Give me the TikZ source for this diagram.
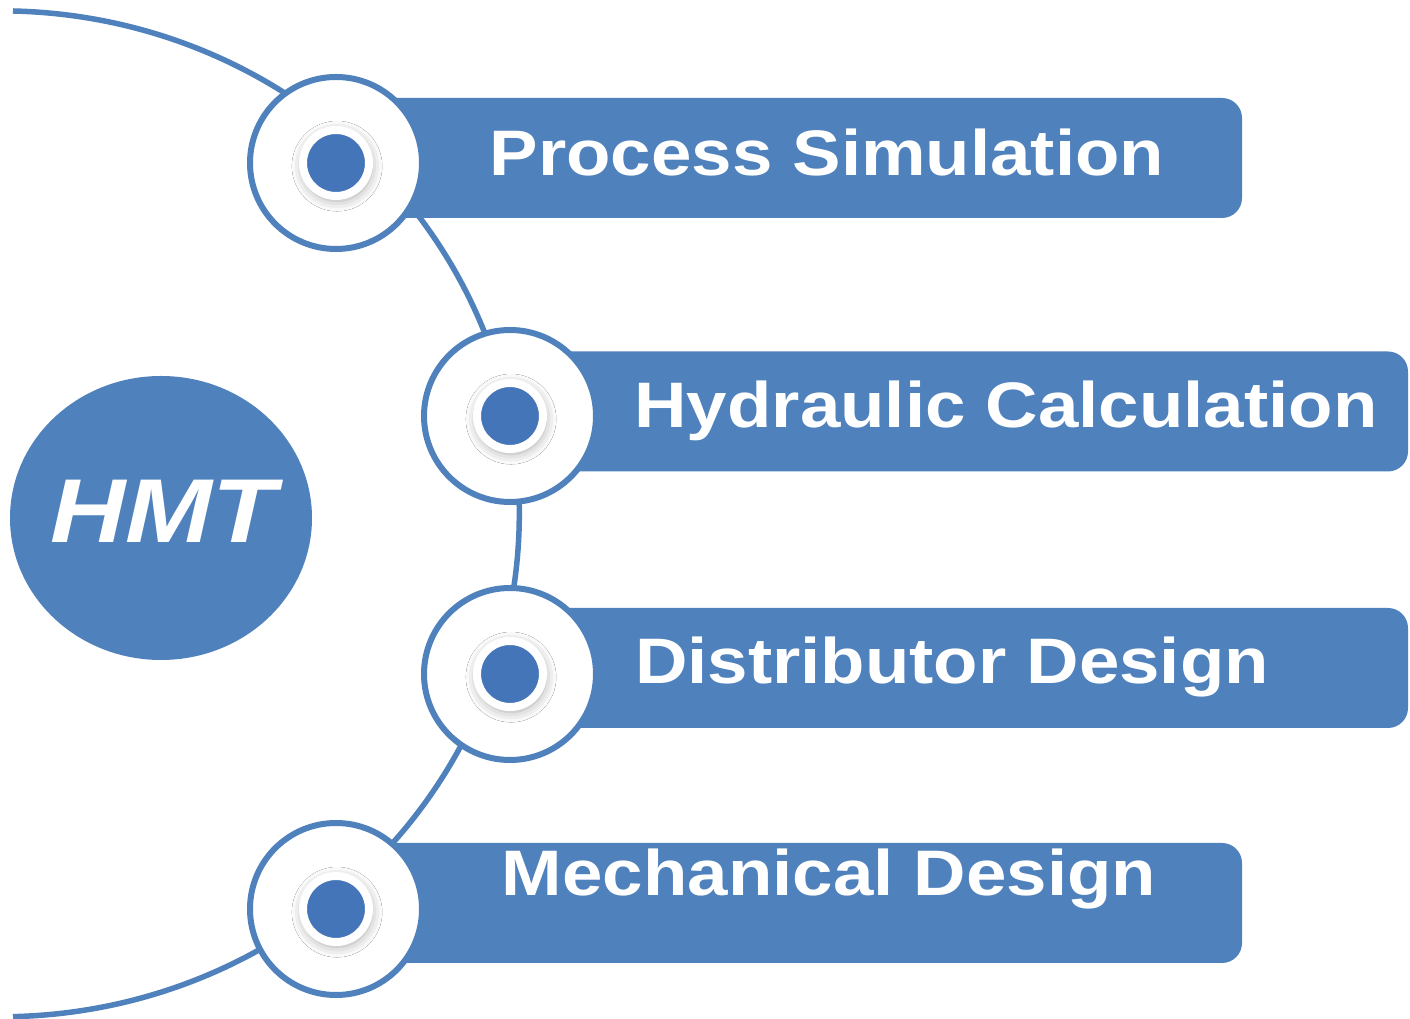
\documentclass[tikz,border=0pt]{standalone}
\usepackage{fontspec}
\setmainfont{Liberation Sans}
\newfontfamily\itemfont{Liberation Sans}[FakeStretch=1.13]
\newfontfamily\hmtfont{Liberation Sans}[FakeStretch=1.15]
\usetikzlibrary{shapes.geometric}
\usetikzlibrary{shadows.blur}
\definecolor{hmtblue}{RGB}{79,129,189}
\definecolor{dotblue}{RGB}{68,117,185}

\begin{document}
\begin{tikzpicture}[x=0.1mm,y=-0.1mm,
  bar/.style={fill=hmtblue, rounded corners=2mm, minimum height=12mm, inner sep=0pt},
  ring/.style={circle, draw=hmtblue, line width=0.6mm, fill=white, minimum size=17.2mm, inner sep=0pt},
  dot/.style={circle, fill=dotblue, draw=white, line width=0.8mm, minimum size=6.6mm, inner sep=0pt,
    blur shadow={shadow xshift=0.1mm, shadow yshift=-0.3mm, shadow blur radius=1mm, shadow scale=1.05, shadow opacity=35}},
  itemtext/.style={text=white, anchor=base, inner sep=0pt, font=\itemfont\bfseries\fontsize{18.3}{22}\selectfont}]
\fill[white] (0,0) rectangle (1410,1019);
\useasboundingbox (0,0) rectangle (1410,1019);

% backbone arc
\coordinate (arctop) at (13,11);
\draw[hmtblue, line width=0.55mm] (arctop) arc[start angle=-88.6, end angle=88.6, x radius=519, y radius=503];

% bars
\node[bar, minimum width=90.6mm] (bar1) at (789,158) {};
\node[bar, minimum width=89.8mm] (bar2) at (959,411.5) {};
\node[bar, minimum width=89.8mm] (bar3) at (959,668) {};
\node[bar, minimum width=90.6mm] (bar4) at (789,903) {};

% rings with dots
\node[ring] (c1) at (336,163) {};
\node[ring] (c2) at (510,416) {};
\node[ring] (c3) at (510,674) {};
\node[ring] (c4) at (336,909) {};
\foreach \i in {1,...,4}
  \node[dot] (d\i) at (c\i) {};

% labels
\node[itemtext] (t1) at (827,176) {Process Simulation};
\node[itemtext] (t2) at (1006,428) {Hydraulic Calculation};
\node[itemtext] (t3) at (952,684) {Distributor Design};
\node[itemtext] (t4) at (829,896) {Mechanical Design};

% HMT
\node[ellipse, fill=hmtblue, minimum width=30.2mm, minimum height=28.4mm, inner sep=0pt] (hmt) at (161,518) {};
\node[text=white, anchor=base, inner sep=0pt, font=\hmtfont\bfseries\itshape\fontsize{25.8}{30}\selectfont] (hmtlabel) at (163,543) {HMT};
\end{tikzpicture}
\end{document}
